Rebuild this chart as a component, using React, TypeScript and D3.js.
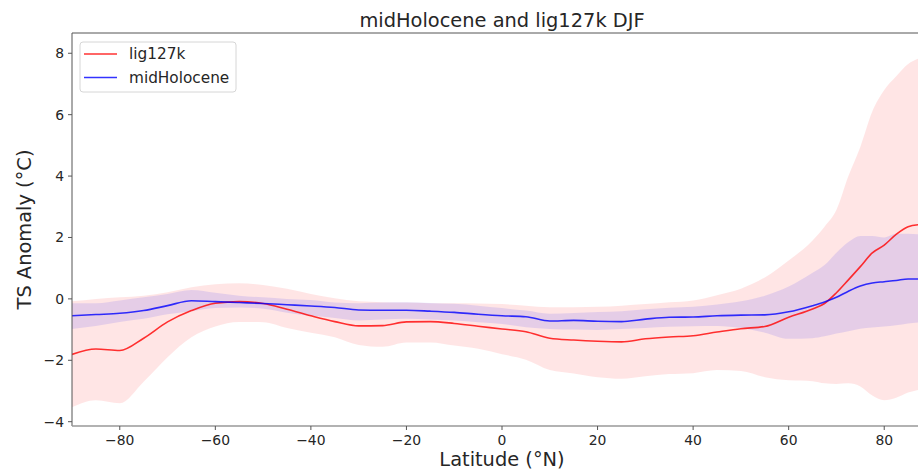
import * as d3 from 'd3';

const lats = [-90, -85, -80, -75, -70, -65, -60, -55, -50, -45, -40, -35, -30, -25, -20, -15, -10, -5, 0, 5, 10, 15, 20, 25, 30, 35, 40, 45, 50, 55, 60, 65, 67.5, 70, 72.5, 75, 77.5, 80, 82.5, 85, 87.5];

// lig127k DJF zonal mean anomaly and spread
const ligMean = [-1.81, -1.63, -1.68, -1.28, -0.75, -0.38, -0.14, -0.09, -0.15, -0.34, -0.55, -0.74, -0.88, -0.87, -0.75, -0.74, -0.8, -0.89, -0.98, -1.07, -1.28, -1.34, -1.38, -1.4, -1.3, -1.24, -1.2, -1.08, -0.97, -0.9, -0.6, -0.33, -0.15, 0.2, 0.62, 1.05, 1.5, 1.75, 2.1, 2.35, 2.42];
const ligUpper = [-0.08, 0.0, 0.05, 0.1, 0.22, 0.38, 0.48, 0.51, 0.45, 0.33, 0.16, 0.02, -0.08, -0.11, -0.12, -0.14, -0.14, -0.15, -0.17, -0.22, -0.27, -0.27, -0.26, -0.22, -0.17, -0.11, -0.05, 0.12, 0.33, 0.7, 1.25, 1.9, 2.35, 2.9, 4.0, 4.95, 6.1, 6.8, 7.25, 7.65, 7.85];
const ligLower = [-3.53, -3.3, -3.4, -2.7, -1.9, -1.25, -0.9, -0.75, -0.76, -0.95, -1.1, -1.25, -1.5, -1.56, -1.42, -1.42, -1.52, -1.62, -1.8, -1.98, -2.32, -2.43, -2.55, -2.6, -2.52, -2.45, -2.42, -2.32, -2.35, -2.55, -2.65, -2.68, -2.75, -2.77, -2.75, -2.85, -3.15, -3.3, -3.22, -3.05, -2.95];

// midHolocene DJF zonal mean anomaly and spread
const midMean = [-0.55, -0.51, -0.47, -0.38, -0.22, -0.06, -0.09, -0.12, -0.15, -0.19, -0.23, -0.28, -0.36, -0.37, -0.37, -0.4, -0.44, -0.5, -0.55, -0.58, -0.72, -0.7, -0.73, -0.74, -0.66, -0.6, -0.59, -0.55, -0.53, -0.52, -0.42, -0.22, -0.1, 0.05, 0.25, 0.42, 0.52, 0.56, 0.6, 0.65, 0.65];
const midUpper = [-0.14, -0.14, -0.05, 0.05, 0.16, 0.29, 0.2, 0.1, 0.05, 0.0, -0.04, -0.12, -0.14, -0.12, -0.11, -0.13, -0.16, -0.22, -0.3, -0.38, -0.48, -0.46, -0.43, -0.4, -0.34, -0.29, -0.26, -0.18, -0.08, 0.1, 0.4, 0.85, 1.1, 1.5, 1.85, 2.05, 2.05, 2.0, 2.12, 2.12, 2.1];
const midLower = [-0.98, -0.88, -0.75, -0.65, -0.5, -0.4, -0.3, -0.28, -0.32, -0.45, -0.55, -0.62, -0.7, -0.67, -0.65, -0.67, -0.7, -0.76, -0.82, -0.92, -0.98, -1.0, -1.01, -0.98, -0.95, -0.91, -0.89, -0.88, -0.95, -1.1, -1.3, -1.28, -1.22, -1.13, -1.05, -0.97, -0.93, -0.9, -0.86, -0.8, -0.76];

const xTicks = [-80, -60, -40, -20, 0, 20, 40, 60, 80];
const yTicks = [-4, -2, 0, 2, 4, 6, 8];

const W = 918;
const H = 473;
const left = 72;
const right = 932;
const top = 33;
const bottom = 426;
const font = 'DejaVu Sans, sans-serif';

const fmt = (v: number) => (v < 0 ? '\u2212' + Math.abs(v) : String(v));

export default function App() {
  const x = d3.scaleLinear().domain([-90, 90]).range([left, right]);
  const y = d3.scaleLinear().domain([-4.14, 8.66]).range([bottom, top]);

  const band = (lo: number[], hi: number[]) =>
    d3.area<number>()
      .x((_, i) => x(lats[i]))
      .y0((_, i) => y(lo[i]))
      .y1((_, i) => y(hi[i]))
      .curve(d3.curveMonotoneX)(lats) || '';

  const line = (v: number[]) =>
    d3.line<number>()
      .x((_, i) => x(lats[i]))
      .y((_, i) => y(v[i]))
      .curve(d3.curveMonotoneX)(lats) || '';

  return (
    <svg width={W} height={H} style={{ position: 'absolute', left: 0, top: 0, background: '#fff' }} fontFamily={font}>
      <defs>
        <clipPath id="plot">
          <rect x={left} y={top} width={right - left} height={bottom - top} />
        </clipPath>
      </defs>

      <g clipPath="url(#plot)">
        <path d={band(ligLower, ligUpper)} fill="red" fillOpacity={0.1} />
        <path d={band(midLower, midUpper)} fill="blue" fillOpacity={0.1} />
        <path d={line(ligMean)} fill="none" stroke="red" strokeOpacity={0.8} strokeWidth={1.6} />
        <path d={line(midMean)} fill="none" stroke="blue" strokeOpacity={0.8} strokeWidth={1.6} />
      </g>

      {/* spines */}
      <line x1={left} x2={right} y1={top} y2={top} stroke="#555" strokeWidth={1} />
      <line x1={left} x2={left} y1={top} y2={bottom} stroke="#555" strokeWidth={1} />
      <line x1={left} x2={right} y1={bottom} y2={bottom} stroke="#999" strokeWidth={1.5} />

      {xTicks.map(t => (
        <g key={'x' + t}>
          <line x1={x(t)} x2={x(t)} y1={bottom} y2={bottom + 4} stroke="#555" />
          <text x={x(t)} y={bottom + 19} textAnchor="middle" fontSize={13.9} fill="#262626">{fmt(t)}</text>
        </g>
      ))}
      {yTicks.map(t => (
        <g key={'y' + t}>
          <line x1={left - 4} x2={left} y1={y(t)} y2={y(t)} stroke="#555" />
          <text x={left - 8} y={y(t)} dy="0.35em" textAnchor="end" fontSize={13.9} fill="#262626">{fmt(t)}</text>
        </g>
      ))}

      <text x={(left + right) / 2} y={27} textAnchor="middle" fontSize={19.4} fill="#262626">midHolocene and lig127k DJF</text>
      <text x={(left + right) / 2} y={466} textAnchor="middle" fontSize={19.4} fill="#262626">Latitude (°N)</text>
      <text transform={`translate(31,${(top + bottom) / 2}) rotate(-90)`} textAnchor="middle" fontSize={19.4} fill="#262626">TS Anomaly (°C)</text>

      {/* legend */}
      <rect x={80} y={42} width={156} height={50} rx={3} fill="#fff" fillOpacity={0.8} stroke="#d6d6d6" />
      <line x1={84} x2={117} y1={54} y2={54} stroke="red" strokeOpacity={0.8} strokeWidth={1.6} />
      <text x={129} y={54} dy="0.35em" fontSize={15.3} fill="#262626">lig127k</text>
      <line x1={84} x2={117} y1={77.5} y2={77.5} stroke="blue" strokeOpacity={0.8} strokeWidth={1.6} />
      <text x={129} y={77.5} dy="0.35em" fontSize={15.3} fill="#262626">midHolocene</text>
    </svg>
  );
}
